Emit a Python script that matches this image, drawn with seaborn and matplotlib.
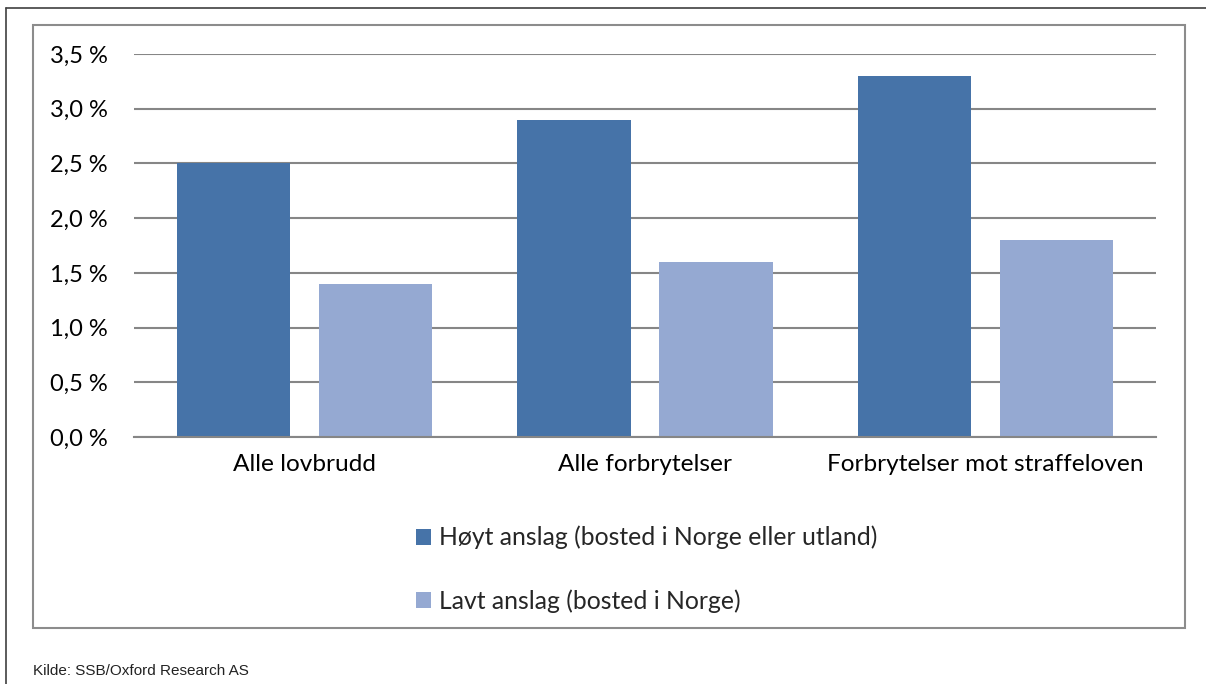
import matplotlib
matplotlib.use('Agg')
import matplotlib.pyplot as plt
import seaborn as sns
import pandas as pd
from matplotlib.ticker import FuncFormatter
from matplotlib.patches import Rectangle
from matplotlib.lines import Line2D

# data
categories = ['Alle lovbrudd', 'Alle forbrytelser', 'Forbrytelser mot straffeloven']
series = ['Høyt anslag (bosted i Norge eller utland)', 'Lavt anslag (bosted i Norge)']
hoyt = [2.5, 2.9, 3.3]
lavt = [1.4, 1.6, 1.8]
colors = ['#4673A8', '#95A9D2']

df = pd.DataFrame({
    'kategori': categories * 2,
    'serie': [series[0]] * 3 + [series[1]] * 3,
    'verdi': hoyt + lavt,
})

sns.set_style('white')
plt.rcParams['font.family'] = ['Lato', 'DejaVu Sans']

fig = plt.figure(figsize=(12.06, 6.84), dpi=100)
ax = fig.add_axes([134 / 1206, 1 - 437 / 684, 1022 / 1206, 383 / 684])

sns.barplot(data=df, x='kategori', y='verdi', hue='serie', palette=colors,
            width=0.833, gap=0.2, saturation=1, linewidth=0, ax=ax, legend=True)

ax.set_ylim(0, 3.5)
ax.set_yticks([0, 0.5, 1, 1.5, 2, 2.5, 3, 3.5])
ax.yaxis.set_major_formatter(FuncFormatter(lambda v, p: f'{v:.1f} %'.replace('.', ',')))
ax.set_xlim(-0.5, 2.5)
ax.grid(axis='y', color='#868686', linewidth=1.5)
ax.set_axisbelow(True)
for s in ['top', 'right', 'left']:
    ax.spines[s].set_visible(False)
ax.spines['bottom'].set_color('#868686')
ax.spines['bottom'].set_linewidth(1.5)
ax.tick_params(axis='y', length=0, pad=19, labelsize=17, labelcolor='black')
ax.tick_params(axis='x', length=0, pad=12, labelsize=17.6, labelcolor='black')
ax.set_xlabel('')
ax.set_ylabel('')

handles, labels = ax.get_legend_handles_labels()
ax.get_legend().remove()
fig.legend(handles, labels, loc='upper left', bbox_to_anchor=(406 / 1206, 1 - 516 / 684),
           frameon=False, fontsize=17.8, handlelength=0.62, handleheight=0.62,
           handletextpad=0.3, labelspacing=1.62, borderaxespad=0)

# frames
fig.patches.append(Rectangle((33 / 1206, 1 - 628 / 684), 1152 / 1206, 603 / 684,
                             transform=fig.transFigure, fill=False,
                             edgecolor='#8c8c8c', linewidth=1.5))
fig.lines.append(Line2D([6 / 1206, 6 / 1206], [0, 1 - 8 / 684], transform=fig.transFigure,
                        color='#404040', linewidth=1.2))
fig.lines.append(Line2D([6 / 1206, 1], [1 - 8 / 684, 1 - 8 / 684], transform=fig.transFigure,
                        color='#404040', linewidth=1.2))

fig.text(33 / 1206, 1 - 675 / 684, 'Kilde: SSB/Oxford Research AS', fontsize=11,
         family=['Liberation Sans Narrow', 'Liberation Sans', 'DejaVu Sans'],
         color='#222222', va='baseline')

fig.savefig('out.png', dpi=100)
